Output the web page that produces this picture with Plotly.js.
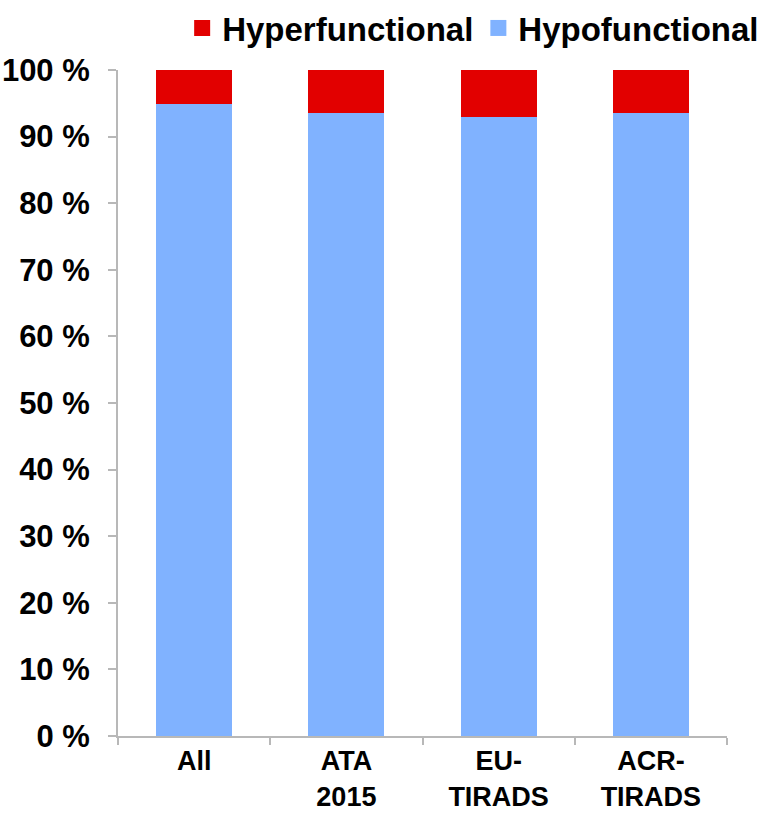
<!DOCTYPE html>
<html>
<head>
<meta charset="utf-8">
<script src="https://cdn.plot.ly/plotly-3.0.1.min.js"></script>
<style>
  html, body { margin: 0; padding: 0; background: #fff; }
  #chart { width: 768px; height: 814px; }
</style>
</head>
<body>
<div id="chart"></div>
<script>
// categories and shares (%)
const categories = ['All', 'ATA<br>2015', 'EU-<br>TIRADS', 'ACR-<br>TIRADS'];
const hypoShare = [94.9, 93.6, 93.0, 93.5];
const hyperShare = [5.1, 6.4, 7.0, 6.5];

const hypoColor = '#80b2ff';
const hyperColor = '#e20000';
const font = { family: 'Liberation Sans, Arial, sans-serif', color: '#000', weight: 'bold' };

// stacked bars (bottom first)
const hypo = {
    type: 'bar',
    x: categories,
    y: hypoShare,
    name: 'Hypofunctional',
    marker: { color: hypoColor },
    showlegend: false
};

const hyper = {
    type: 'bar',
    x: categories,
    y: hyperShare,
    name: 'Hyperfunctional',
    marker: { color: hyperColor },
    showlegend: false
};

// legend entries with bigger square swatches
const legHyper = {
    type: 'scatter', mode: 'markers', x: [null], y: [null],
    name: 'Hyperfunctional',
    marker: { symbol: 'square', size: 16, color: hyperColor }
};
const legHypo = {
    type: 'scatter', mode: 'markers', x: [null], y: [null],
    name: 'Hypofunctional',
    marker: { symbol: 'square', size: 16, color: hypoColor }
};

const layout = {
    width: 768,
    height: 814,
    margin: { l: 118, r: 41, t: 70, b: 78, autoexpand: false },
    barmode: 'stack',
    bargap: 0.5,
    paper_bgcolor: '#fff',
    plot_bgcolor: '#fff',
    font: font,
    showlegend: true,
    legend: {
        orientation: 'h',
        xref: 'container', x: 0.995, xanchor: 'right',
        yref: 'container', y: 1, yanchor: 'top',
        font: Object.assign({}, font, { size: 33 }),
        traceorder: 'normal',
        itemwidth: 30
    },
    xaxis: {
        type: 'category',
        showline: true,
        linecolor: '#b8b8b8',
        linewidth: 2,
        ticks: 'outside',
        tickson: 'boundaries',
        ticklen: 7,
        tickcolor: '#b8b8b8',
        tickwidth: 2,
        showgrid: false,
        tickfont: Object.assign({}, font, { size: 27 })
    },
    yaxis: {
        range: [0, 100],
        dtick: 10,
        ticksuffix: ' %',
        showline: true,
        linecolor: '#b8b8b8',
        linewidth: 2,
        ticks: 'outside',
        ticklen: 8,
        tickcolor: '#b8b8b8',
        tickwidth: 2,
        ticklabelstandoff: 12,
        showgrid: false,
        zeroline: false,
        tickfont: Object.assign({}, font, { size: 31 })
    }
};

Plotly.newPlot('chart', [hypo, hyper, legHyper, legHypo], layout, { displayModeBar: false });
</script>
</body>
</html>
